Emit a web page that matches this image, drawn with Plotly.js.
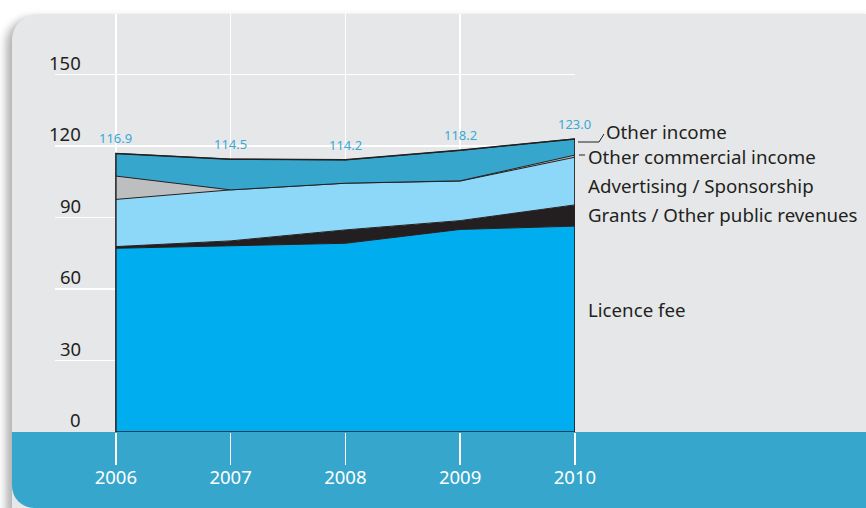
<!DOCTYPE html>
<html>
<head>
<meta charset="utf-8">
<script src="https://cdn.plot.ly/plotly-3.0.1.min.js"></script>
<style>
  html, body { margin: 0; padding: 0; background: #ffffff; }
  #wrap { position: relative; width: 866px; height: 508px; overflow: hidden; background: #ffffff; }
  #panel { position: absolute; left: 12px; top: 14px; width: 870px; height: 520px;
           background: #e6e7e9; border-top-left-radius: 26px; border-top-right-radius: 12px;
           box-shadow: -6px 4px 8px rgba(0,0,0,0.30); }
  #band { position: absolute; left: 12px; top: 432px; width: 870px; height: 76px;
          background: #37a6cc; border-bottom-left-radius: 22px; }
  #chart { position: absolute; left: 0; top: 0; width: 866px; height: 508px; }
</style>
</head>
<body>
<div id="wrap">
  <div id="panel"></div>
  <div id="band"></div>
  <div id="chart"></div>
</div>
<script>
// ---- data ----
var years = [2006, 2007, 2008, 2009, 2010];
var licenceFee = [77.1, 78.1, 79.2, 85.0, 86.4];
var grants = [0.7, 2.1, 5.6, 3.7, 8.9];
var advertising = [19.8, 21.4, 19.6, 16.6, 20.0];
var otherCommercial = [9.8, 0.0, 0.0, 0.1, 0.9];
var otherIncome = [9.5, 12.9, 9.8, 12.8, 6.8];
var totals = [116.9, 114.5, 114.2, 118.2, 123.0];
var totalLabels = ["116.9", "114.5", "114.2", "118.2", "123.0"];
var yTicks = [0, 30, 60, 90, 120, 150];
var seriesNames = ["Licence fee", "Grants / Other public revenues", "Advertising / Sponsorship",
                   "Other commercial income", "Other income"];

// ---- geometry helpers (pixel layout of the page) ----
var W = 866, H = 508;
var L = 55, R = 575, T = 14, B = 432;
function px(x) { return (x - L) / (R - L); }
function py(y) { return (B - y) / (B - T); }

var FONT = "Noto Sans, Open Sans, sans-serif";
var dark = "#231f20";
var seriesData = [licenceFee, grants, advertising, otherCommercial, otherIncome];
var fills = ["#00aeef", "#231f20", "#8dd8f8", "#bcbec0", "#36a6cd"];

var traces = seriesData.map(function (vals, i) {
  return {
    type: "scatter", mode: "lines", x: years, y: vals, name: seriesNames[i],
    stackgroup: "rev", fillcolor: fills[i],
    line: { color: dark, width: 1 }, hoverinfo: "skip"
  };
});

// outline of the whole stacked area
var ox = [years[0]].concat(years, [years[years.length - 1], years[0]]);
var oy = [0].concat(totals, [0, 0]);
traces.push({ type: "scatter", mode: "lines", x: ox, y: oy, line: { color: dark, width: 1.5 },
              showlegend: false, hoverinfo: "skip", cliponaxis: false });

var annotations = yTicks.map(function (v) {
  return { xref: "paper", yref: "y", x: px(83), y: v, xanchor: "right", yanchor: "bottom",
           text: String(v), showarrow: false, yshift: -2,
           font: { family: FONT, size: 18.5, color: dark } };
});

// total value labels
years.forEach(function (yr, i) {
  annotations.push({ xref: "x", yref: "y", x: yr, y: totals[i], xanchor: "center", yanchor: "middle",
                     text: totalLabels[i], showarrow: false, yshift: 15,
                     font: { family: FONT, size: 13, color: "#3aa8d4" } });
});

var labelPos = [
  { t: seriesNames[4], x: 604, y: 131 },
  { t: seriesNames[3], x: 586, y: 156 },
  { t: seriesNames[2], x: 586, y: 185 },
  { t: seriesNames[1], x: 586, y: 214 },
  { t: seriesNames[0], x: 586, y: 310 }
];
labelPos.forEach(function (p) {
  annotations.push({ xref: "paper", yref: "paper", x: px(p.x), y: py(p.y), xanchor: "left",
                     yanchor: "middle", text: p.t, showarrow: false,
                     font: { family: FONT, size: 18.7, color: dark } });
});

var shapes = [
  { type: "path", xref: "paper", yref: "paper",
    path: "M " + px(578) + " " + py(142) + " L " + px(599) + " " + py(142) + " L " + px(604) + " " + py(134),
    line: { color: dark, width: 1 } },
  { type: "line", xref: "paper", yref: "paper", x0: px(579), x1: px(585), y0: py(155), y1: py(155),
    line: { color: dark, width: 1 } }
];

var layout = {
  width: W, height: H,
  margin: { l: L, r: W - R, t: T, b: H - B, pad: 0 },
  paper_bgcolor: "rgba(0,0,0,0)", plot_bgcolor: "rgba(0,0,0,0)",
  showlegend: false,
  font: { family: FONT },
  xaxis: {
    range: [2006 - (116 - L) / 115, 2010.001], tickvals: years, ticktext: years.map(String),
    showgrid: true, gridcolor: "#ffffff", gridwidth: 1.5, zeroline: false, showline: false,
    ticks: "outside", ticklen: 32, tickwidth: 1.5, tickcolor: "#ffffff", ticklabelstandoff: -3,
    tickfont: { family: FONT, size: 18.5, color: "#ffffff" }, fixedrange: true
  },
  yaxis: {
    range: [0, (B - T) / 2.383], tickvals: yTicks, showticklabels: false,
    showgrid: true, gridcolor: "#ffffff", gridwidth: 1.5, zeroline: false, showline: false,
    ticks: "", fixedrange: true
  },
  annotations: annotations,
  shapes: shapes
};

Plotly.newPlot("chart", traces, layout, { displayModeBar: false, staticPlot: true });
</script>
</body>
</html>
